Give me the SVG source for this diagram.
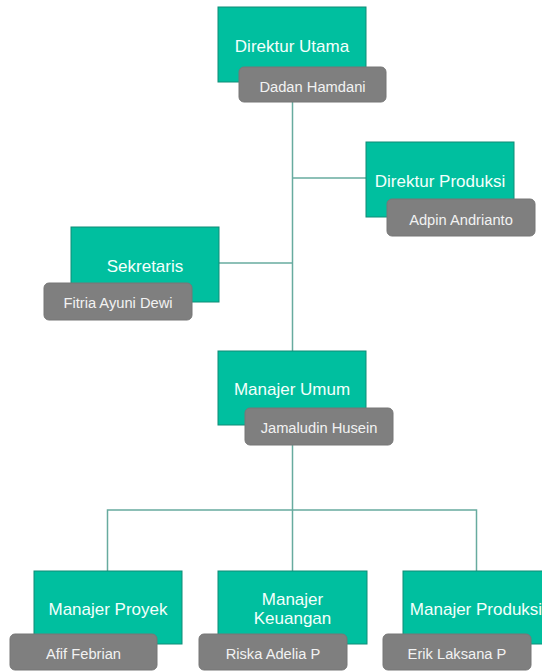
<svg xmlns="http://www.w3.org/2000/svg" width="542" height="671" viewBox="0 0 542 671">
<style>
.box{fill:#00BF9F;stroke:#0E8C76;stroke-width:1}
.tag{fill:#7F7F7F;stroke:#777777;stroke-width:1}
.t{font-family:"Liberation Sans",Arial,sans-serif;font-size:17px;fill:#F4FFFC;text-anchor:middle}
.n{font-family:"Liberation Sans",Arial,sans-serif;font-size:14.7px;fill:#F2F2F2;text-anchor:middle}
.c{fill:none;stroke:#67AB9F;stroke-width:1.5}
</style>
<rect width="542" height="671" fill="#FFFFFF"/>
<g id="connectors">
<path class="c" d="M292.5 82V351"/>
<path class="c" d="M292.5 178H366"/>
<path class="c" d="M219 263H292.5"/>
<path class="c" d="M292.5 425V510"/>
<path class="c" d="M107.5 571V510H476.5V571"/>
<path class="c" d="M292.5 510V571"/>
</g>
<g id="direktur-utama">
<rect class="box" x="218" y="7" width="148" height="75"/>
<text class="t" x="292" y="52">Direktur Utama</text>
<rect class="tag" x="239" y="67" width="147" height="35" rx="5"/>
<text class="n" x="312.5" y="92">Dadan Hamdani</text>
</g>
<g id="direktur-produksi">
<rect class="box" x="366" y="142" width="148" height="75"/>
<text class="t" x="440" y="187">Direktur Produksi</text>
<rect class="tag" x="387" y="199" width="148" height="37" rx="5"/>
<text class="n" x="461" y="225">Adpin Andrianto</text>
</g>
<g id="sekretaris">
<rect class="box" x="71" y="227" width="148" height="75"/>
<text class="t" x="145" y="272">Sekretaris</text>
<rect class="tag" x="44" y="283" width="148" height="37" rx="5"/>
<text class="n" x="118" y="308">Fitria Ayuni Dewi</text>
</g>
<g id="manajer-umum">
<rect class="box" x="218" y="351" width="148" height="74"/>
<text class="t" x="292" y="395">Manajer Umum</text>
<rect class="tag" x="245" y="408" width="148" height="37" rx="5"/>
<text class="n" x="319" y="433">Jamaludin Husein</text>
</g>
<g id="manajer-proyek">
<rect class="box" x="34" y="571" width="148" height="73"/>
<text class="t" x="108" y="615">Manajer Proyek</text>
<rect class="tag" x="10" y="634" width="147" height="36" rx="5"/>
<text class="n" x="83.5" y="659">Afif Febrian</text>
</g>
<g id="manajer-keuangan">
<rect class="box" x="218" y="571" width="149" height="73"/>
<text class="t" x="292.5" y="605">Manajer</text>
<text class="t" x="292.5" y="624">Keuangan</text>
<rect class="tag" x="199" y="634" width="148" height="36" rx="5"/>
<text class="n" x="273" y="659">Riska Adelia P</text>
</g>
<g id="manajer-produksi">
<rect class="box" x="403" y="571" width="148" height="73"/>
<text class="t" x="476" y="615">Manajer Produksi</text>
<rect class="tag" x="383" y="634" width="148" height="36" rx="5"/>
<text class="n" x="457" y="659">Erik Laksana P</text>
</g>
</svg>
